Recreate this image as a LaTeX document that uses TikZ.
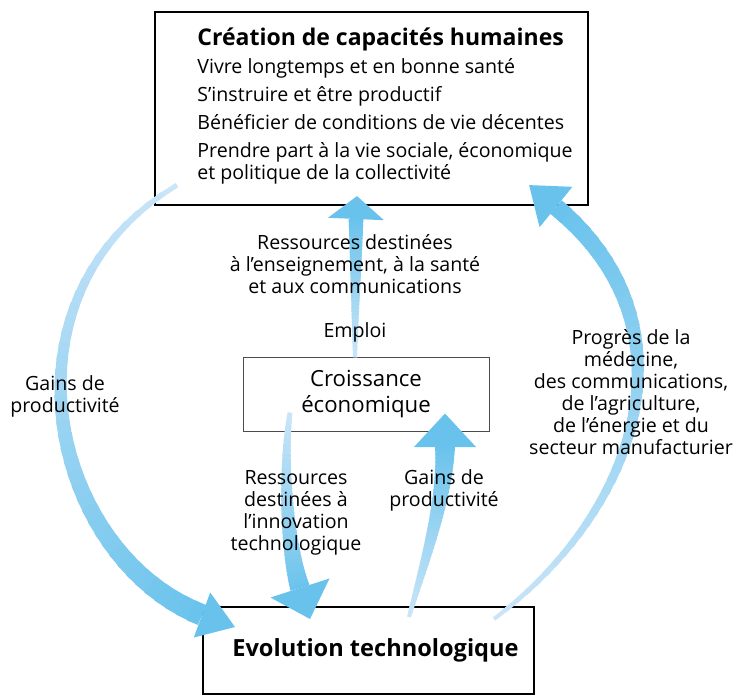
\documentclass[tikz,border=0pt]{standalone}
\usepackage{fontspec}
\setmainfont{Open Sans}
\usepackage{tikz}
\usetikzlibrary{calc, positioning}

\definecolor{flowlight}{RGB}{202,229,248}
\definecolor{flowdark}{RGB}{104,194,236}

% tail, control 1, control 2, head base, tip, tail width, base width, head half width
\newcommand\flowarrow[8]{%
  \foreach \i in {0,...,39}{
    \pgfmathsetmacro\fla{\i/40}
    \pgfmathsetmacro\flb{min(1,(\i+1.4)/40)}
    \pgfmathsetmacro\flw{0.5*(#6+(#7-#6)*\fla)}
    \pgfmathsetmacro\fls{100*\fla}
    \path #1 .. controls #2 and #3 .. #4 coordinate[pos=\fla] (fa) coordinate[pos=\flb] (fb);
    \draw[line width=\flw pt, flowdark!\fls!flowlight] (fa) -- (fb);
  }
  \fill[flowdark] ($#4!#8!90:#5$) -- #5 -- ($#4!#8!-90:#5$) -- cycle;
}

\begin{document}
\begin{tikzpicture}[
    x=0.5pt, y=-0.5pt,
    capbox/.style={rectangle, draw=black, line width=1.1pt, minimum width=216.5pt, minimum height=96.5pt},
    midbox/.style={rectangle, draw=black!70, line width=0.5pt, minimum width=123pt, minimum height=36.5pt, align=center, font=\fontsize{11.1}{13}\selectfont},
    techbox/.style={rectangle, draw=black, line width=1pt, minimum width=165.5pt, minimum height=43.5pt, font=\fontsize{11.8}{13}\selectfont\bfseries},
    lbl/.style={align=center, inner sep=0pt, font=\fontsize{9.8}{11}\selectfont}
]
\useasboundingbox (0,0) rectangle (734,695);

\node[capbox] (cap) at (371.5,108.5) {};
\node[anchor=north west, align=left, inner sep=0pt, font=\fontsize{9.8}{11}\selectfont] (caplist) at (197,27) {%
  {\fontsize{11.5}{13}\selectfont\bfseries Création de capacités humaines}\\[3pt]
  Vivre longtemps et en bonne santé\\[3pt]
  S’instruire et être productif\\[3pt]
  Bénéficier de conditions de vie décentes\\[3pt]
  Prendre part à la vie sociale, économique\\
  et politique de la collectivité};
\node[midbox] (croiss) at (366,394.5) {Croissance\\économique};
\node[techbox] (evol) at (368.5,650.5) {\hspace{7pt}Evolution technologique};

\coordinate (gl0) at ($(cap.south west)+(23,-21)$);
\coordinate (gl1) at ($(evol.north west)+(33,21)$);
\coordinate (pr0) at ($(evol.north east)+(-41,13)$);
\coordinate (pr1) at ($(cap.south east)+(-60,-21)$);
\coordinate (rs0) at ($(croiss.north)+(-11,0)$);
\coordinate (rs1) at ($(cap.south)+(-14.5,-10)$);
\coordinate (in0) at ($(croiss.south)+(-76,-19)$);
\coordinate (in1) at ($(evol.north)+(-58.5,13)$);
\coordinate (gc0) at ($(evol.north)+(40.5,11)$);
\coordinate (gc1) at ($(croiss.south)+(79,-18)$);

\flowarrow{(gl0)}{(-12,298)}{(53,557)}{(202,615)}{(gl1)}{5}{22}{12pt}
\flowarrow{(pr0)}{(641,509)}{(698,324)}{(556,207)}{(pr1)}{4}{18}{13pt}
\flowarrow{(rs0)}{(355,310)}{(356,265)}{(356,219)}{(rs1)}{4}{15}{14pt}
\flowarrow{(in0)}{(282,470)}{(288,550)}{(300,588)}{(in1)}{5}{20}{15.5pt}
\flowarrow{(gc0)}{(425,560)}{(445,500)}{(445,447)}{(gc1)}{4}{20}{15.5pt}

\node[lbl] (ressup) at (355,264) {Ressources destinées\\à l’enseignement, à la santé\\et aux communications};
\node[lbl] (emploi) at (355,332) {Emploi};
\node[lbl] (gainsl) at (65,396) {Gains de\\productivité};
\node[lbl] (progres) at (631,392.5) {Progrès de la\\médecine,\\des communications,\\de l’agriculture,\\de l’énergie et du\\secteur manufacturier};
\node[lbl] (resinn) at (296,512.5) {Ressources\\destinées à\\l’innovation\\technologique};
\node[lbl] (gainsc) at (444,490) {Gains de\\productivité};

\end{tikzpicture}
\end{document}
